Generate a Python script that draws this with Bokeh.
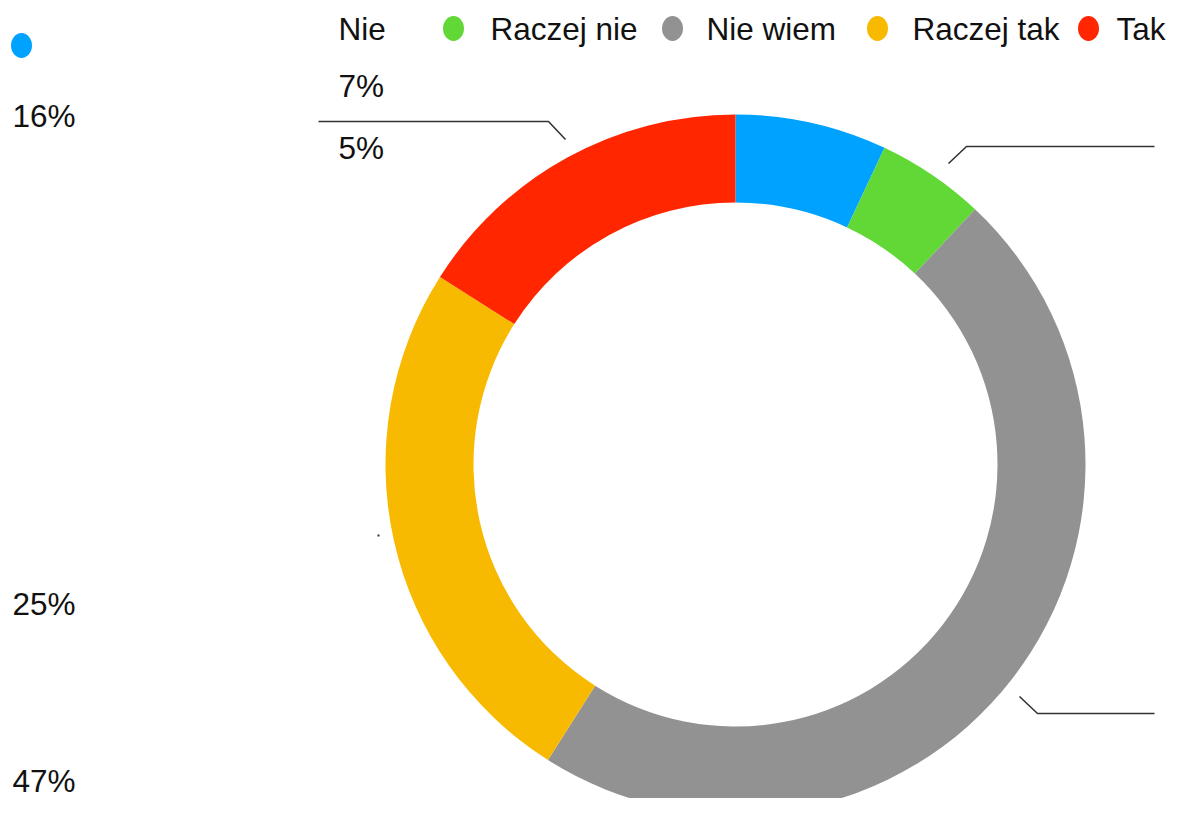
import numpy as np
from bokeh.plotting import figure
from bokeh.models import Range1d, ColumnDataSource
from bokeh.core.properties import value
from bokeh.embed import file_html
from bokeh.resources import INLINE

# ---- data ----
categories = ["Nie", "Raczej nie", "Nie wiem", "Raczej tak", "Tak"]
percents = [7, 5, 47, 25, 16]
colors = ["#00A2FF", "#61D836", "#929292", "#F8BA00", "#FF2600"]

# ---- layout (screen pixel positions; data y = -screen y) ----
W, H = 1173, 798
FONT = value("Liberation Sans")
FS = "31.5px"

p = figure(width=W, height=H, output_backend="svg", toolbar_location=None,
           x_range=Range1d(0, W), y_range=Range1d(-H, 0),
           min_border=0, outline_line_color=None)
p.axis.visible = False
p.grid.visible = False
p.background_fill_color = "white"
p.border_fill_color = "white"

# donut
cx, cy = 735, -464
r_out, r_in = 350, 262
frac = np.array(percents, dtype=float) / sum(percents)
cum = np.concatenate([[0], np.cumsum(frac)])
start = np.pi / 2 - 2 * np.pi * cum[1:]
end = np.pi / 2 - 2 * np.pi * cum[:-1]
src = ColumnDataSource(dict(start=start, end=end, color=colors))
p.annular_wedge(x=cx, y=cy, inner_radius=r_in, outer_radius=r_out,
                start_angle="start", end_angle="end", direction="anticlock",
                fill_color="color", line_color=None, source=src)

# legend (manual)
dot_x = [21, 453, 672, 877, 1088]
dot_y = [-45, -28, -28, -28, -28]
lab_x = [338, 490, 706, 912, 1116]
lab_y = [-28] * 5
p.ellipse(x=dot_x, y=dot_y, width=21, height=25, fill_color=colors, line_color=None)
p.text(x=lab_x, y=lab_y, text=categories, text_font=FONT, text_font_size=FS,
       text_baseline="middle", text_align="left", text_color="#111111")

# percent labels
pct_x = [338, 338, 12, 12, 12]
pct_y = [-85, -147, -780, -603, -115]
p.text(x=pct_x, y=pct_y, text=[f"{v}%" for v in percents], text_font=FONT,
       text_font_size=FS, text_baseline="middle", text_align="left",
       text_color="#111111")

# leader lines
p.line(x=[318, 548, 565], y=[-121, -121, -139], line_color="#333333", line_width=1.6)
p.line(x=[948, 966, 1154], y=[-163, -146, -146], line_color="#333333", line_width=1.6)
p.line(x=[1019, 1037, 1154], y=[-696, -713, -713], line_color="#333333", line_width=1.6)
p.scatter(x=[378], y=[-535], size=2, marker="square", fill_color="#333333", line_color=None)

open("out.html", "w").write(file_html(p, INLINE))
